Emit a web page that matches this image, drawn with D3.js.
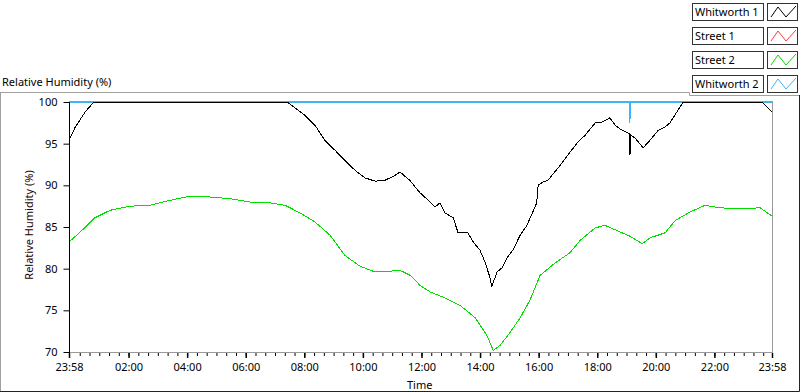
<!DOCTYPE html>
<html>
<head>
<meta charset="utf-8">
<script src="https://cdn.jsdelivr.net/npm/d3@7.9.0/dist/d3.min.js"></script>
<style>
  body { margin: 0; background: #fff; }
  svg { display: block; font-family: "Noto Sans", sans-serif; font-size: 11px; }
</style>
</head>
<body>
<svg id="chart" width="800" height="392"></svg>
<script>
// minutes since 23:58 and readings for each series
const whitworth1Min = [0,12,33,51,447,463,483,504,524,545,565,586,606,627,647,668,678,698,719,740,750,760,770,787,797,807,817,828,842,852,862,866,877,887,897,909,924,938,950,958,961,971,981,1006,1041,1057,1078,1092,1108,1119,1133,1145,1148,1149,1151,1159,1176,1190,1207,1221,1231,1245,1258,1420,1428,1440];
const whitworth1Val = [95.4,96.9,98.8,100,100,99.3,98.4,97.2,95.4,94.2,93.0,91.8,90.9,90.5,90.6,91.2,91.6,90.6,89.1,88.0,87.4,87.9,86.7,86.1,84.3,84.4,84.3,83.2,82.2,80.8,79.0,77.9,79.6,80.1,81.3,82.2,84.0,85.2,86.8,87.9,90.0,90.4,90.6,92.4,95.1,96.0,97.5,97.6,98.1,97.2,96.6,96.3,96.2,93.6,96.0,95.7,94.5,95.4,96.6,97.0,97.5,98.8,100,100,99.5,98.8];

const street1Min = [];
const street1Val = [];

const street2Min = [0,23,53,84,125,166,207,248,289,330,371,412,443,473,504,535,565,596,627,658,678,699,719,740,770,801,832,856,869,883,903,924,944,965,996,1026,1047,1078,1098,1129,1149,1174,1190,1221,1242,1272,1303,1334,1375,1416,1440];
const street2Val = [83.2,84.4,86.1,87.0,87.5,87.6,88.2,88.7,88.6,88.4,88.0,87.9,87.6,86.7,85.6,84.0,81.6,80.3,79.6,79.7,79.8,79.2,78.0,77.2,76.5,75.6,74.1,72.0,70.2,70.8,72.3,74.1,76.2,79.2,80.7,81.9,83.4,84.9,85.2,84.4,83.9,83.0,83.7,84.3,85.8,86.8,87.6,87.3,87.2,87.3,86.3];

const whitworth2Min = [0,1148,1149,1150,1440];
const whitworth2Val = [100,100,97.5,100,100];

const seriesNames = ["Whitworth 1", "Street 1", "Street 2", "Whitworth 2"];
const seriesColors = ["#000000", "#ff3b3b", "#00dd00", "#3fb4f2"];
const yTicks = [70, 75, 80, 85, 90, 95, 100];
const xTickHours = [2, 4, 6, 8, 10, 12, 14, 16, 18, 20, 22];

const start = new Date(2000, 0, 1, 23, 58);
const end = d3.timeMinute.offset(start, 1440);
const toDate = m => d3.timeMinute.offset(start, m);

const svg = d3.select('#chart');
const plotL = 69, plotR = 772, plotT = 102, plotB = 352;

const x = d3.scaleTime().domain([start, end]).range([plotL, plotR]);
const y = d3.scaleLinear().domain([70, 100]).range([plotB, plotT]);

// frame lines
const frame = svg.append('g').attr('fill', 'none');
frame.append('path').attr('d', 'M0,92.5H689.5V95.5H800').attr('stroke', '#a0a0a0');
frame.append('path').attr('d', 'M0.5,92V392').attr('stroke', '#a0a0a0');
frame.append('path').attr('d', 'M0,391.5H799.5V95').attr('stroke', '#222');

// top-left caption
svg.append('text').attr('x', 2).attr('y', 86).attr('fill', '#000').text('Relative Humidity (%)');

// plot area border
svg.append('rect')
  .attr('x', plotL + 0.5).attr('y', plotT - 0.5)
  .attr('width', plotR - plotL).attr('height', plotB - plotT + 1)
  .attr('fill', '#fff').attr('stroke', '#999');

svg.append('clipPath').attr('id', 'clip')
  .append('rect').attr('x', plotL).attr('y', plotT - 1).attr('width', plotR - plotL).attr('height', plotB - plotT + 2);

// series, drawn back to front
const line = d3.line().x(d => x(d[0])).y(d => y(d[1]));
const seriesData = [
  d3.zip(whitworth2Min.map(toDate), whitworth2Val),
  d3.zip(street1Min.map(toDate), street1Val),
  d3.zip(street2Min.map(toDate), street2Val),
  d3.zip(whitworth1Min.map(toDate), whitworth1Val)
];
const drawColors = [seriesColors[3], seriesColors[1], seriesColors[2], seriesColors[0]];
const plot = svg.append('g').attr('clip-path', 'url(#clip)');
seriesData.forEach((data, i) => {
  if (!data.length) return;
  plot.append('path')
    .datum(data)
    .attr('d', line)
    .attr('fill', 'none')
    .attr('stroke', drawColors[i])
    .attr('stroke-width', 1)
    .attr('shape-rendering', 'crispEdges');
});

// y axis
const yAxis = svg.append('g')
  .attr('transform', `translate(${plotL + 0.5},0)`)
  .call(d3.axisLeft(y).tickValues(yTicks).tickSize(6).tickPadding(6).tickSizeOuter(0));
yAxis.select('.domain').attr('stroke', '#000').attr('d', `M0,${plotT}V${plotB + 4}`);
yAxis.selectAll('text').attr('fill', '#000').style('font-size', '11px').style('font-family', '"Noto Sans", sans-serif');

// x axis minor ticks
const minorTicks = d3.timeMinute.every(20).range(d3.timeMinute.offset(start, 10), end);
svg.append('g')
  .attr('transform', `translate(0,${plotB + 1})`)
  .call(d3.axisBottom(x).tickValues(minorTicks).tickSize(3).tickFormat(''))
  .call(g => g.select('.domain').remove());

// x axis major ticks
const majorTicks = [start, ...xTickHours.map(h => new Date(2000, 0, 2, h, 0)), end];
const xAxis = svg.append('g')
  .attr('transform', `translate(0,${plotB + 1})`)
  .call(d3.axisBottom(x).tickValues(majorTicks).tickSize(5).tickPadding(5).tickFormat(d3.timeFormat('%H:%M')));
xAxis.select('.domain').remove();
xAxis.selectAll('text').attr('fill', '#000').style('font-size', '11px').style('font-family', '"Noto Sans", sans-serif');
xAxis.selectAll('line').attr('stroke-width', 1.5);

// axis titles
svg.append('text').attr('x', 407).attr('y', 389).attr('fill', '#000').text('Time');
svg.append('text')
  .attr('transform', 'translate(33,225) rotate(-90)')
  .attr('text-anchor', 'middle')
  .attr('fill', '#200')
  .text('Relative Humidity (%)');

// legend
const legend = svg.append('g');
seriesNames.forEach((name, i) => {
  const g = legend.append('g').attr('transform', `translate(692,${3 + i * 24})`);
  g.append('rect').attr('x', 0.5).attr('y', 0.5).attr('width', 71).attr('height', 17)
    .attr('fill', '#fff').attr('stroke', '#333');
  g.append('text').attr('x', 3).attr('y', 13).attr('fill', '#000').text(name);
  g.append('rect').attr('x', 75.5).attr('y', 0.5).attr('width', 30).attr('height', 17)
    .attr('fill', '#fff').attr('stroke', '#333');
  g.append('path')
    .attr('d', 'M79,14L86,4L94,14L104,3')
    .attr('fill', 'none').attr('stroke', seriesColors[i]);
});
</script>
</body>
</html>
